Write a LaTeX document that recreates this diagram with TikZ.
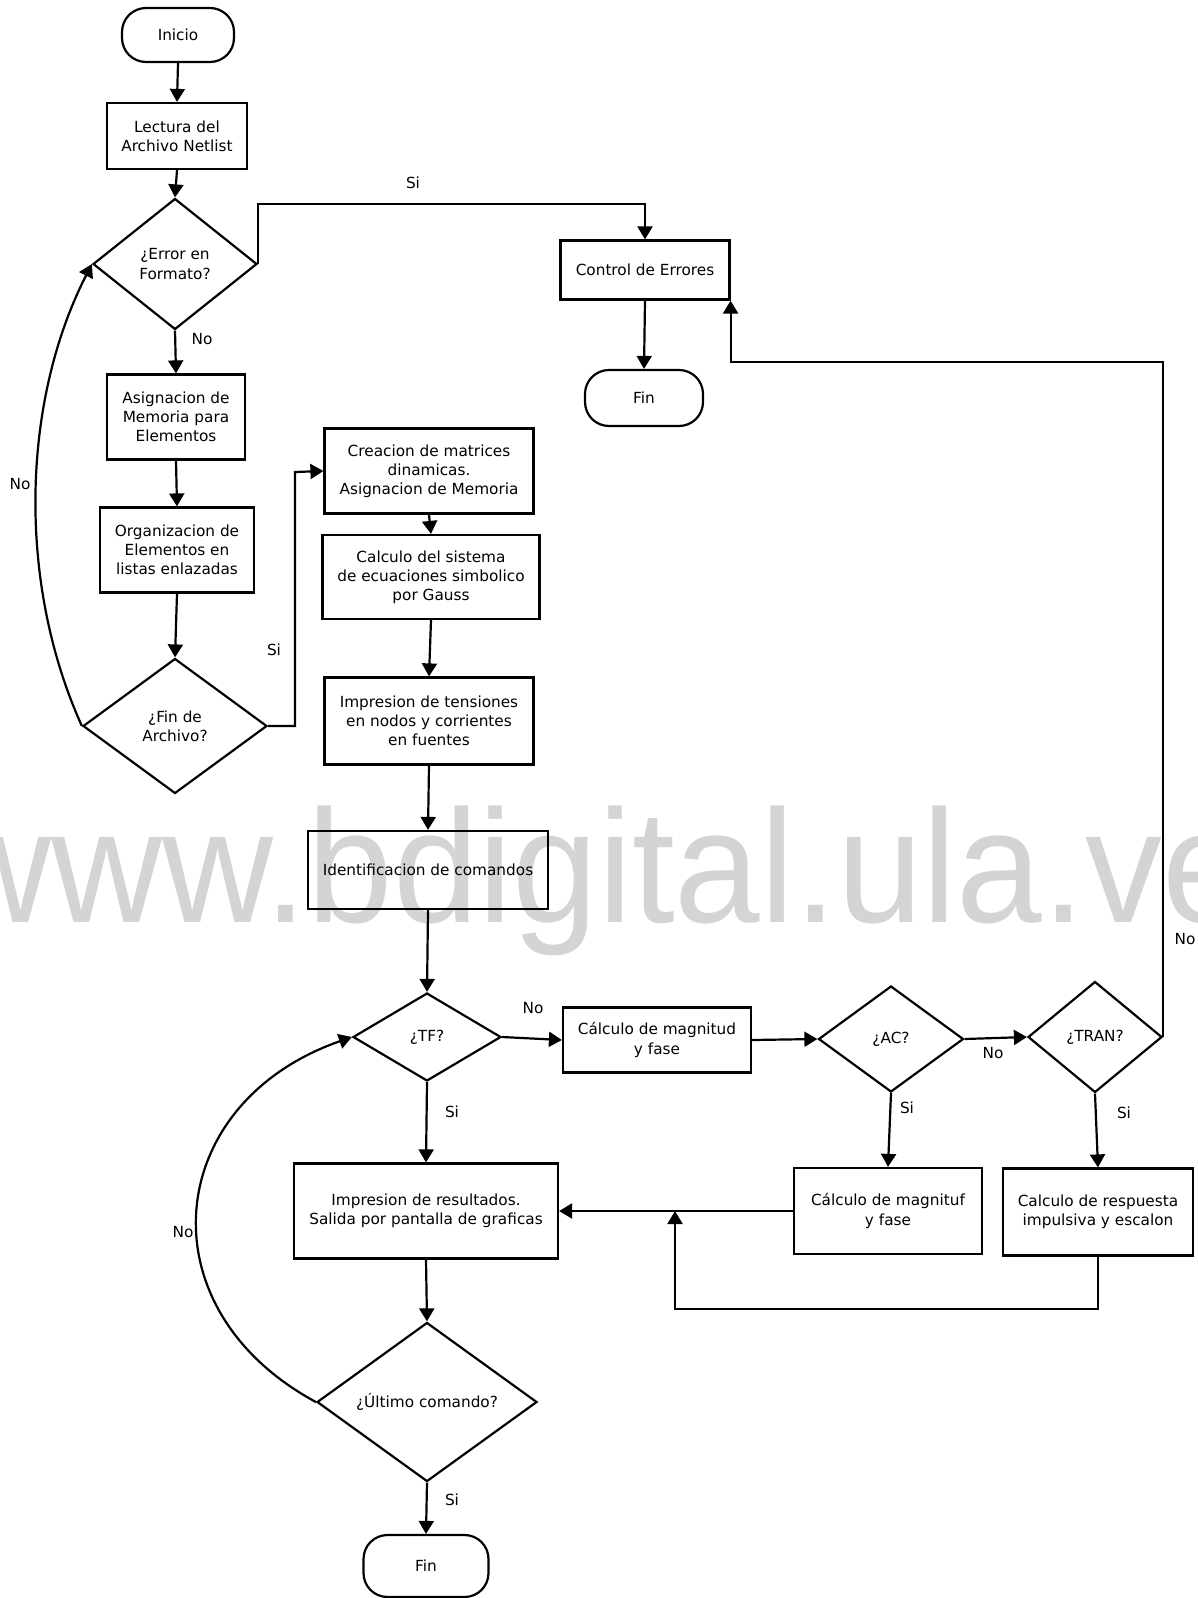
\documentclass[tikz,border=0pt]{standalone}
\usepackage{fontspec}
\usepackage{graphicx}
\setmainfont{DejaVu Sans}
\newfontfamily\wmfont{Liberation Sans}
\usetikzlibrary{arrows.meta,shapes.geometric}
\definecolor{wmgray}{RGB}{212,212,212}
\tikzset{
  basenode/.style={draw=black, line width=2.2pt, align=center, inner sep=1pt,
    font=\fontsize{15.3}{19.2}\selectfont},
  proc/.style={basenode, rectangle},
  term/.style={basenode, rectangle, rounded corners=24pt},
  decision/.style={basenode, diamond, inner sep=0pt},
  lbl/.style={inner sep=0pt, font=\fontsize{15.3}{19.2}\selectfont},
  arr/.style={line width=2.2pt, -{Triangle[length=13pt,width=15pt]}},
  wmark/.style={inner sep=0pt, anchor=base west, text=wmgray}
}
\begin{document}
\begin{tikzpicture}[x=1pt,y=-1pt]
\useasboundingbox (0,0) rectangle (1198,1598);
% watermark
\begin{scope}
\clip (0,0) rectangle (1198,1598);
\node[wmark] (wm) at (-60,922) {\scalebox{0.955}[1]{\wmfont\fontsize{161}{161}\selectfont www.bdigital.ula.ve}};
\end{scope}

% nodes
\node[term, minimum width=112pt, minimum height=54pt] (inicio) at (178,35) {Inicio};
\node[proc, minimum width=140pt, minimum height=66pt] (lect) at (177,136) {Lectura del\\Archivo Netlist};
\node[decision, minimum width=164pt, minimum height=131pt] (err) at (175,264) {¿Error en\\Formato?};
\node[proc, minimum width=138pt, minimum height=85pt] (asign) at (176,417) {Asignacion de\\Memoria para\\Elementos};
\node[proc, minimum width=154pt, minimum height=85pt] (organ) at (177,550) {Organizacion de\\Elementos en\\listas enlazadas};
\node[decision, minimum width=184pt, minimum height=135pt] (fda) at (175,726) {¿Fin de\\Archivo?};
\node[proc, minimum width=169pt, minimum height=59pt] (ctrl) at (645,270) {Control de Errores};
\node[term, minimum width=118pt, minimum height=56pt] (fin1) at (644,398) {Fin};
\node[proc, minimum width=209pt, minimum height=85pt] (creac) at (429,471) {Creacion de matrices\\dinamicas.\\Asignacion de Memoria};
\node[proc, minimum width=217pt, minimum height=84pt] (calc) at (431,577) {Calculo del sistema\\de ecuaciones simbolico\\por Gauss};
\node[proc, minimum width=209pt, minimum height=87pt] (impt) at (429,721) {Impresion de tensiones\\en nodos y corrientes\\en fuentes};
\node[proc, minimum width=240pt, minimum height=78pt] (ident) at (428,870) {Identificacion de comandos};
\node[decision, minimum width=148pt, minimum height=88pt] (tf) at (427,1037) {¿TF?};
\node[proc, minimum width=188pt, minimum height=65pt] (mag) at (657,1040) {Cálculo de magnitud\\y fase};
\node[decision, minimum width=145pt, minimum height=106pt] (ac) at (891,1039) {¿AC?};
\node[decision, minimum width=134pt, minimum height=111pt] (tran) at (1095,1037) {¿TRAN?};
\node[proc, minimum width=188pt, minimum height=86pt] (magf) at (888,1211) {Cálculo de magnituf\\y fase};
\node[proc, minimum width=190pt, minimum height=87pt] (resp) at (1098,1212) {Calculo de respuesta\\impulsiva y escalon};
\node[proc, minimum width=264pt, minimum height=95pt] (impr) at (426,1211) {Impresion de resultados.\\Salida por pantalla de graficas};
\node[decision, minimum width=220pt, minimum height=150pt] (ult) at (427,1402) {¿Último comando?};
\node[term, minimum width=125pt, minimum height=62pt] (fin2) at (426,1566) {Fin};

% labels
\node[lbl] (l1) at (413,183) {Si};
\node[lbl] (l2) at (202,339) {No};
\node[lbl] (l3) at (20,484) {No};
\node[lbl] (l4) at (274,650) {Si};
\node[lbl] (l5) at (533,1008) {No};
\node[lbl] (l6) at (993,1053) {No};
\node[lbl] (l7) at (1185,939) {No};
\node[lbl] (l8) at (907,1108) {Si};
\node[lbl] (l9) at (1124,1113) {Si};
\node[lbl] (l10) at (452,1112) {Si};
\node[lbl] (l11) at (183,1232) {No};
\node[lbl] (l12) at (452,1500) {Si};

% helper coordinates
\coordinate (siTop) at (0,204);
\coordinate (fdaX) at (295,472);
\coordinate (ctrlY) at (0,362);
\coordinate (loopY) at (675,1309);

% connectors
\draw[arr] (inicio.south) -- (lect.north);
\draw[arr] (lect.south) -- (err.north);
\draw[arr] (err.east) -- (err.east |- siTop) -- (ctrl.north |- siTop) -- (ctrl.north);
\draw[arr] (ctrl.south) -- (fin1.north);
\draw[arr] (err.south) -- (asign.north);
\draw[arr] (asign.south) -- (organ.north);
\draw[arr] (organ.south) -- (fda.north);
\draw[arr] (fda.west) .. controls (17.5,584) and (21,403) .. (err.west);
\draw[arr] (fda.east) -| (fdaX) -- (creac.west);
\draw[arr] (creac.south) -- (calc.north);
\draw[arr] (calc.south) -- (impt.north);
\draw[arr] (impt.south) -- (ident.north);
\draw[arr] (ident.south) -- (tf.north);
\draw[arr] (tf.east) -- (mag.west);
\draw[arr] (mag.east) -- (ac.west);
\draw[arr] (ac.east) -- (tran.west);
\draw[arr] (tran.east) |- (ctrl.south east |- ctrlY) -- (ctrl.south east);
\draw[arr] (ac.south) -- (magf.north);
\draw[arr] (tran.south) -- (resp.north);
\draw[arr] (tf.south) -- (impr.north);
\draw[arr] (magf.west) -- (impr.east |- magf.west);
\draw[arr] (resp.south) |- (loopY) -- (loopY |- magf.west);
\draw[arr] (impr.south) -- (ult.north);
\draw[arr] (ult.south) -- (fin2.north);
\draw[arr] (ult.west) .. controls (142,1308) and (163,1103) .. (tf.west);
\end{tikzpicture}
\end{document}
